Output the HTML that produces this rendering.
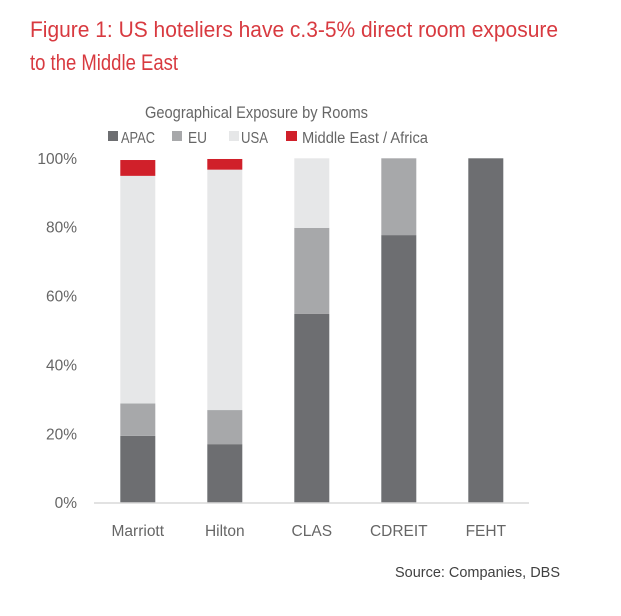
<!DOCTYPE html>
<html><head><meta charset="utf-8"><style>
html,body{margin:0;padding:0;background:#fff;}
svg{display:block;font-family:"Liberation Sans",sans-serif;}
</style></head><body>
<svg id="chart" width="621" height="616" viewBox="0 0 621 616" xmlns="http://www.w3.org/2000/svg">
<text x="30" y="37" font-size="22" fill="#d83a40" textLength="528" lengthAdjust="spacingAndGlyphs">Figure 1: US hoteliers have c.3-5% direct room exposure</text>
<text x="30" y="70" font-size="22" fill="#d83a40" textLength="148" lengthAdjust="spacingAndGlyphs">to the Middle East</text>
<text x="145" y="118" font-size="16.5" fill="#666" textLength="223" lengthAdjust="spacingAndGlyphs">Geographical Exposure by Rooms</text>
<g>
<rect x="108" y="131" width="10" height="10" fill="#6d6e71"/>
<text x="121" y="143" font-size="15.5" fill="#666" textLength="34" lengthAdjust="spacingAndGlyphs">APAC</text>
<rect x="172" y="131" width="10" height="10" fill="#a7a8aa"/>
<text x="188" y="143" font-size="15.5" fill="#666" textLength="19" lengthAdjust="spacingAndGlyphs">EU</text>
<rect x="229" y="131" width="10" height="10" fill="#e6e7e8"/>
<text x="241" y="143" font-size="15.5" fill="#666" textLength="27" lengthAdjust="spacingAndGlyphs">USA</text>
<rect x="286" y="131" width="11" height="10" fill="#d0202a"/>
<text x="302" y="143" font-size="15.5" fill="#666" textLength="126" lengthAdjust="spacingAndGlyphs">Middle East / Africa</text>
</g>
<g id="yaxis"></g>
<g id="bars"></g>
<line x1="94" y1="503" x2="529" y2="503" stroke="#d9d9d9" stroke-width="1.5"/>
<g id="xaxis"></g>
<text x="560" y="577" font-size="15" fill="#404040" text-anchor="end" textLength="165" lengthAdjust="spacingAndGlyphs">Source: Companies, DBS</text>
</svg>
<script>
const categories = ["Marriott","Hilton","CLAS","CDREIT","FEHT"];
const apac = [19.4, 17.0, 54.8, 77.7, 100];
const eu = [9.4, 9.9, 25.0, 22.3, 0];
const usa = [66.1, 69.8, 20.2, 0, 0];
const mea = [4.6, 3.1, 0, 0, 0];
const yTicks = [0, 20, 40, 60, 80, 100];
const seriesNames = ["apac","eu","usa","mea"];
const seriesColors = ["#6d6e71","#a7a8aa","#e6e7e8","#d0202a"];

const NS = "http://www.w3.org/2000/svg";
const y0 = 502.7, y100 = 158.3, xL = 94.3, band = 87, bw = 35;
const yS = v => y0 - (v / 100) * (y0 - y100);
const xS = i => xL + band * i + band / 2;

const ya = document.getElementById('yaxis');
yTicks.forEach(t => {
  const el = document.createElementNS(NS, 'text');
  
  
  el.setAttribute('x', 77); el.setAttribute('y', yS(t) + 5.5);
  el.setAttribute('text-anchor', 'end'); el.setAttribute('font-size', '15.5');
  el.setAttribute('fill', '#666');
  el.textContent = t + '%';
  ya.appendChild(el);
});

const bars = document.getElementById('bars');
const series = [apac, eu, usa, mea];
categories.forEach((c, i) => {
  let base = 0;
  series.forEach((s, k) => {
    const v = s[i];
    if (v > 0) {
      const r = document.createElementNS(NS, 'rect');
      
      
      r.setAttribute('x', xS(i) - bw / 2);
      r.setAttribute('y', yS(base + v));
      r.setAttribute('width', bw);
      r.setAttribute('height', yS(base) - yS(base + v));
      r.setAttribute('fill', seriesColors[k]);
      bars.appendChild(r);
    }
    base += v;
  });
});

const xa = document.getElementById('xaxis');
categories.forEach((c, i) => {
  const el = document.createElementNS(NS, 'text');
  
  
  el.setAttribute('x', xS(i)); el.setAttribute('y', 536);
  el.setAttribute('text-anchor', 'middle'); el.setAttribute('font-size', '15.5');
  el.setAttribute('fill', '#666');
  el.textContent = c;
  xa.appendChild(el);
});
</script>
</body></html>
